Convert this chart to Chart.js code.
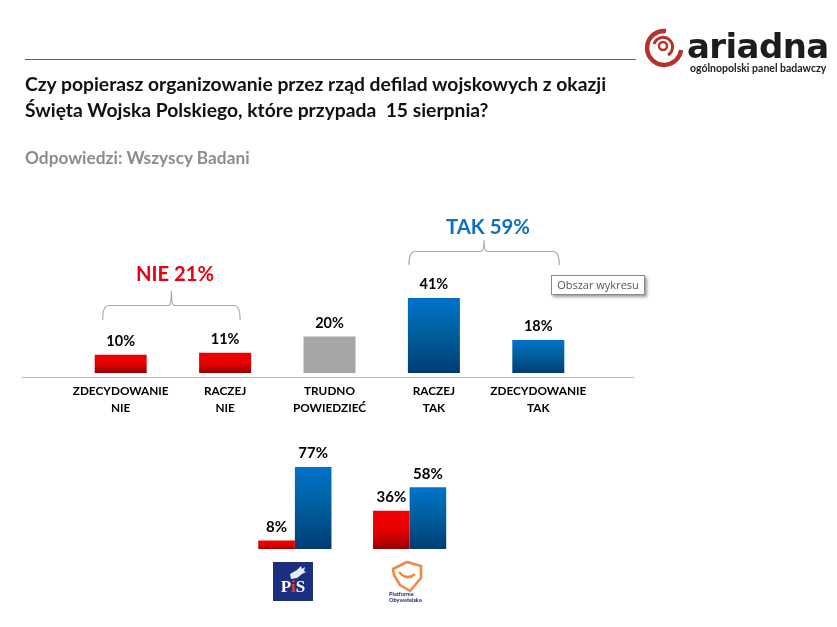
<!DOCTYPE html>
<html lang="pl"><head><meta charset="utf-8">
<script src="https://cdn.jsdelivr.net/npm/chart.js@4"></script>
<style>
html,body{margin:0;padding:0;background:#fff;overflow:hidden}
#page{position:relative;width:837px;height:627px;font-family:Lato,"Open Sans",sans-serif}
canvas{position:absolute;left:0;top:0}
.t{position:absolute;white-space:nowrap}
</style></head><body>
<div id="page">
<canvas id="main" width="837" height="627"></canvas>
<canvas id="small" width="837" height="627"></canvas>
<div style="position:absolute;left:25px;top:59px;width:611px;height:1px;background:#e0301f"></div>
<div class="t" style="left:25px;top:71px;font-size:19.3px;font-weight:700;color:#111;line-height:26px">Czy popierasz organizowanie przez rząd defilad wojskowych z okazji<br>Święta Wojska Polskiego, które przypada&nbsp; 15 sierpnia?</div>
<div class="t" style="left:25px;top:148px;font-size:17.3px;font-weight:700;color:#8c8c8c;line-height:20px">Odpowiedzi: Wszyscy Badani</div>
<div class="t" style="left:136px;top:260px;font-size:20.2px;font-weight:700;color:#e8000f;line-height:26px">NIE 21%</div>
<div class="t" style="left:446px;top:213px;font-size:20.3px;font-weight:700;color:#0f6fb8;line-height:26px">TAK 59%</div>
<div class="t" style="left:551px;top:275px;width:92px;height:18px;border:1px solid #8a8a8a;background:#fff;box-shadow:2px 2px 3px #999;font:11px/18px 'Open Sans',sans-serif;color:#555;text-align:center">Obszar wykresu</div>
<svg style="position:absolute;left:0;top:0" width="837" height="627" fill="none">
<g stroke="#b5332c" fill="none" stroke-linecap="butt">
<path d="M666 31 A17 17 0 1 0 681 50" stroke-width="4.5"/>
<path d="M654 44 A9.5 9.5 0 1 1 668 55" stroke-width="3"/>
<circle cx="663" cy="46" r="4" stroke-width="2.4"/>
</g>
<rect x="273" y="562" width="40" height="39" fill="#1a2f80"/>
<path d="M290 574 l7-4 4-4 1 3 3-2-1 4 2 1-4 2-5 4-6 1z" fill="#e8ecf6"/>
<path d="M393 569 l14-7 14 4 0 12-11 13-10-6-6-10z" stroke="#ee8a48" stroke-width="2.6" stroke-linejoin="round"/>
<path d="M399 572 q8 9 16 2" stroke="#ee8a48" stroke-width="2.6"/>
</svg>
<div class="t" style="left:687px;top:24px;font-family:'DejaVu Sans',sans-serif;font-size:34px;font-weight:700;line-height:44px;color:#1d1d1d;letter-spacing:-.6px">ariadna</div>
<div class="t" style="left:690px;top:62px;font-size:10.5px;font-weight:700;line-height:13px;color:#222">ogólnopolski panel badawczy</div>
<div class="t" style="left:273px;top:577px;width:40px;text-align:center;font:700 17px/20px 'Liberation Serif',serif;color:#fff">P<span style="color:#e33">i</span>S</div>
<div class="t" style="left:389px;top:591px;font-size:5.6px;font-weight:900;line-height:6px;color:#2b3a78">Platforma<br>Obywatelska</div>
</div>
<script>
const categories = [["ZDECYDOWANIE","NIE"],["RACZEJ","NIE"],["TRUDNO","POWIEDZIEĆ"],["RACZEJ","TAK"],["ZDECYDOWANIE","TAK"]];
const answerValues = [10, 11, 20, 41, 18];
const answerTones = ["red","red","gray","blue","blue"];
const parties = ["PiS","Platforma Obywatelska"];
const partyNo = [8, 36];
const partyYes = [77, 58];

const tones = {
  red:[[0,"#f20000"],[.55,"#e40000"],[1,"#960000"]],
  blue:[[0,"#0072cc"],[.45,"#00619f"],[1,"#003c73"]],
  gray:[[0,"#a6a6a6"],[1,"#a6a6a6"]]
};
function fill(ctx, tone){
  const s=ctx.chart.scales.y;
  if(!s||ctx.parsed===undefined) return tones[tone][0][1];
  const a=s.getPixelForValue(ctx.parsed.y),b=s.getPixelForValue(0);
  if(!Number.isFinite(a)||!Number.isFinite(b)) return tones[tone][0][1];
  const g=ctx.chart.ctx.createLinearGradient(0,a,0,b);
  tones[tone].forEach(([o,c])=>g.addColorStop(o,c));
  return g;
}
const valueLabels = fontSize => ({id:"valueLabels",afterDatasetsDraw(chart){
  const c=chart.ctx;c.save();c.font=`700 ${fontSize}px Lato`;c.fillStyle="#000";c.textAlign="center";c.textBaseline="middle";
  chart.data.datasets.forEach((d,i)=>chart.getDatasetMeta(i).data.forEach((b,j)=>c.fillText(d.data[j]+"%",b.x,b.y-13.5)));
  c.restore();
}});
function brace(c,x1,x2,yTop,yBot,yTip){
  const m=(x1+x2)/2,r=6;
  c.beginPath();c.moveTo(x1,yBot);c.quadraticCurveTo(x1,yTop,x1+r,yTop);c.lineTo(m-3,yTop);
  c.quadraticCurveTo(m,yTop,m,yTip);c.quadraticCurveTo(m,yTop,m+3,yTop);c.lineTo(x2-r,yTop);
  c.quadraticCurveTo(x2,yTop,x2,yBot);c.stroke();
}
const decor={id:"decor",afterDraw(chart){
  const c=chart.ctx,x=chart.scales.x;c.save();
  c.strokeStyle="#bdbdbd";c.lineWidth=1;
  c.beginPath();c.moveTo(22,377.5);c.lineTo(634,377.5);c.stroke();
  c.strokeStyle="#ababab";c.lineWidth=1.2;
  brace(c,x.getPixelForValue(0)-18,x.getPixelForValue(1)+15,305.5,320,291);
  brace(c,x.getPixelForValue(3)-25,x.getPixelForValue(4)+21,251.5,265,240);
  c.restore();
}};
new Chart(document.getElementById("main"),{
  type:"bar",
  data:{labels:categories,datasets:[{data:answerValues,
    backgroundColor:ctx=>fill(ctx,answerTones[ctx.dataIndex]||"gray"),
    categoryPercentage:1,barPercentage:.498}]},
  options:{responsive:false,animation:false,events:[],
    layout:{padding:{left:68.5,right:246.5,top:200,bottom:200}},
    plugins:{legend:{display:false},tooltip:{enabled:false},title:{display:false}},
    scales:{
      y:{display:false,min:0,max:94.5},
      x:{grid:{display:false},border:{display:false},
        afterFit(s){s.height=54;},
        ticks:{color:"#000",font:{family:"Lato",weight:"700",size:11.8,lineHeight:1.44},padding:2,autoSkip:false,maxRotation:0}}
    }},
  plugins:[valueLabels(14.5),decor]
});
new Chart(document.getElementById("small"),{
  type:"bar",
  data:{labels:parties,datasets:[
    {label:"NIE",data:partyNo,backgroundColor:ctx=>fill(ctx,"red"),categoryPercentage:.6376,barPercentage:1},
    {label:"TAK",data:partyYes,backgroundColor:ctx=>fill(ctx,"blue"),categoryPercentage:.6376,barPercentage:1}
  ]},
  options:{responsive:false,animation:false,events:[],
    layout:{padding:{left:237.5,right:370,top:440,bottom:78}},
    plugins:{legend:{display:false},tooltip:{enabled:false},title:{display:false}},
    scales:{y:{display:false,min:0,max:102.3},x:{display:false}}},
  plugins:[valueLabels(15)]
});
</script>
</body></html>
